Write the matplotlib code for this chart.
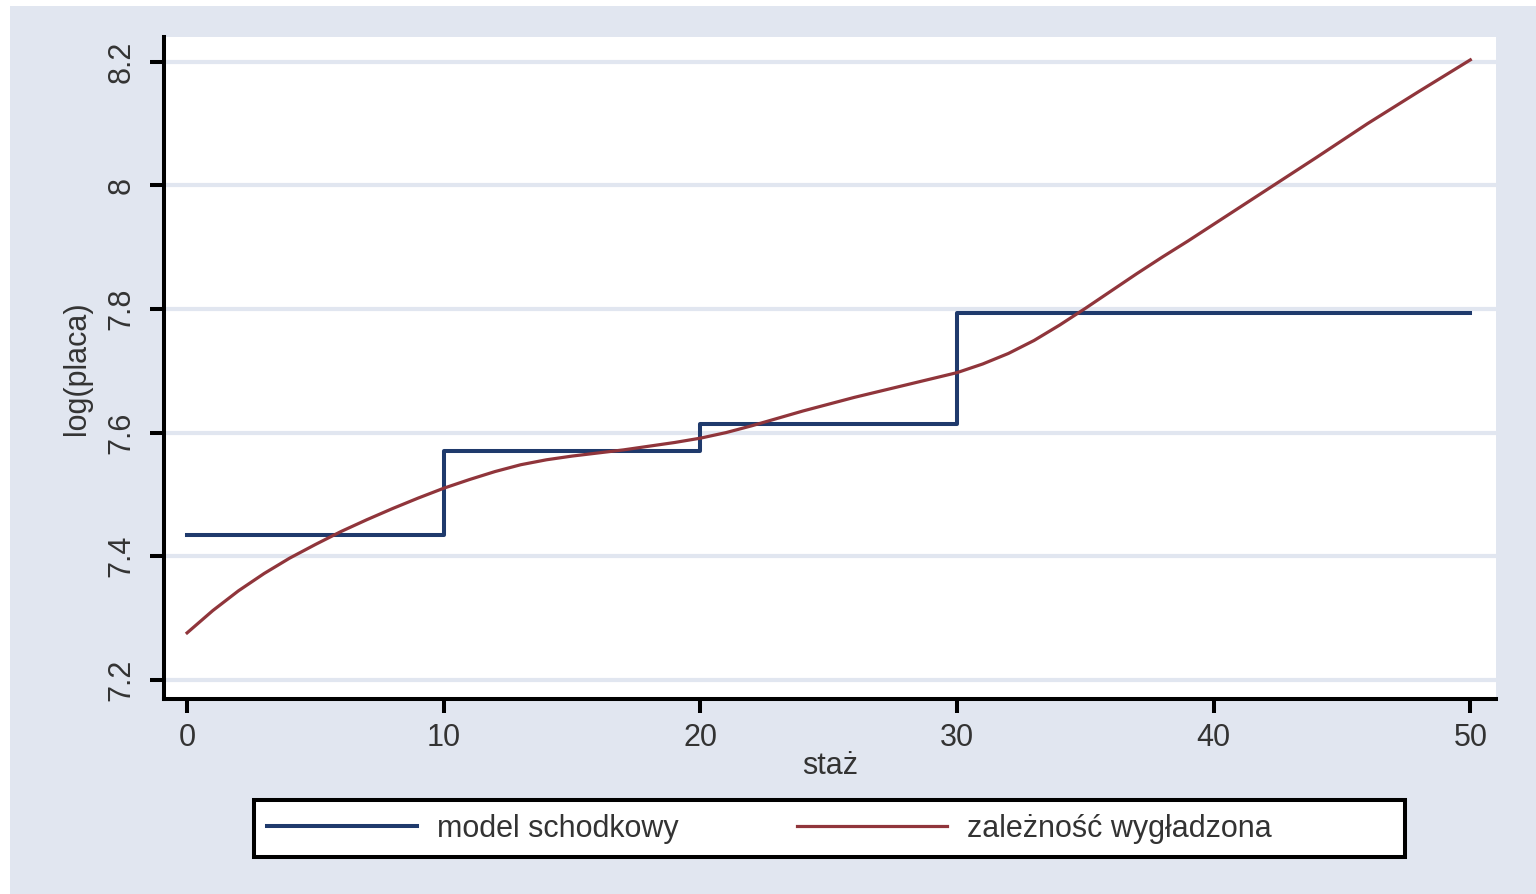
import matplotlib
matplotlib.use("Agg")
import matplotlib.pyplot as plt
from matplotlib.patches import Rectangle

# step model: constant level inside each 10-year bracket of seniority
step_edges = [0, 10, 20, 30, 50]
step_levels = [7.435, 7.571, 7.614, 7.793, 7.793]

# smoothed relationship
staz = [0, 1, 2, 3, 4, 5, 6, 7, 8, 9, 10, 11, 12, 13, 14, 15, 16, 17, 18, 19,
        20, 21, 22, 23, 24, 25, 26, 27, 28, 29, 30, 31, 32, 33, 34, 35, 36, 37,
        38, 39, 40, 42, 44, 46, 48, 50]
log_placa = [7.276, 7.312, 7.344, 7.372, 7.397, 7.419, 7.440, 7.459, 7.477, 7.494,
             7.510, 7.524, 7.537, 7.548, 7.556, 7.562, 7.567, 7.572, 7.578, 7.584,
             7.591, 7.600, 7.611, 7.623, 7.635, 7.646, 7.657, 7.667, 7.677, 7.687,
             7.697, 7.711, 7.728, 7.749, 7.774, 7.801, 7.829, 7.857, 7.884, 7.910,
             7.937, 7.991, 8.045, 8.100, 8.152, 8.203]

x_ticks = [0, 10, 20, 30, 40, 50]
y_ticks = [7.2, 7.4, 7.6, 7.8, 8.0, 8.2]
y_tick_labels = ["7.2", "7.4", "7.6", "7.8", "8", "8.2"]

BG = "#E1E6F0"
NAVY = "#1F3A6C"
MAROON = "#90353B"

plt.rcParams["font.family"] = ["Liberation Sans", "DejaVu Sans"]

fig = plt.figure(figsize=(15.36, 8.94), dpi=100, facecolor="white")
# graph region (thin white margin on the left and top)
fig.patches.append(Rectangle((10 / 1536, 0), 1, 1 - 6 / 894, transform=fig.transFigure,
                             facecolor=BG, edgecolor="none", zorder=-10))

ax = fig.add_axes([164 / 1536, (894 - 699) / 894, (1496 - 164) / 1536, (699 - 37) / 894])
ax.set_facecolor("white")

ax.plot(step_edges, step_levels, drawstyle="steps-post", color=NAVY, lw=2.9,
        label="model schodkowy", zorder=3)
ax.plot(staz, log_placa, color=MAROON, lw=2.3, label="zależność wygładzona", zorder=4)

ax.set_xlim(-0.9, 51.0)
ax.set_ylim(7.169, 8.240)
ax.set_xticks(x_ticks)
ax.set_yticks(y_ticks)
ax.set_yticklabels(y_tick_labels, rotation=90, va="center")
ax.grid(axis="y", color=BG, lw=3)
ax.set_axisbelow(True)

for side in ["top", "right"]:
    ax.spines[side].set_visible(False)
for side in ["left", "bottom"]:
    ax.spines[side].set_linewidth(2.9)
    ax.spines[side].set_color("black")

ax.tick_params(axis="both", length=10, width=2.9, color="black",
               labelsize=22, labelcolor="#333333")
ax.tick_params(axis="x", pad=7)
ax.tick_params(axis="y", pad=10)

ax.set_xlabel("staż", fontsize=22, color="#333333")
ax.set_ylabel("log(placa)", fontsize=22, color="#333333")
ax.xaxis.set_label_coords(0.5, -0.078)
ax.yaxis.set_label_coords(-0.054, 0.5)

# legend frame
fig.patches.append(Rectangle((254 / 1536, 1 - 857 / 894), (1405 - 254) / 1536, 57 / 894,
                             transform=fig.transFigure, facecolor="white",
                             edgecolor="black", lw=2.9, zorder=1))
fs_px = 22 / 72 * 100
fig.legend(loc="center left", bbox_to_anchor=(267 / 1536, 1 - 829 / 894), ncol=2,
           frameon=False, fontsize=22, borderpad=0, borderaxespad=0,
           handlelength=150 / fs_px, handletextpad=20 / fs_px,
           columnspacing=118 / fs_px, labelcolor="#333333")

fig.savefig("out.png", dpi=100, facecolor=fig.get_facecolor())
